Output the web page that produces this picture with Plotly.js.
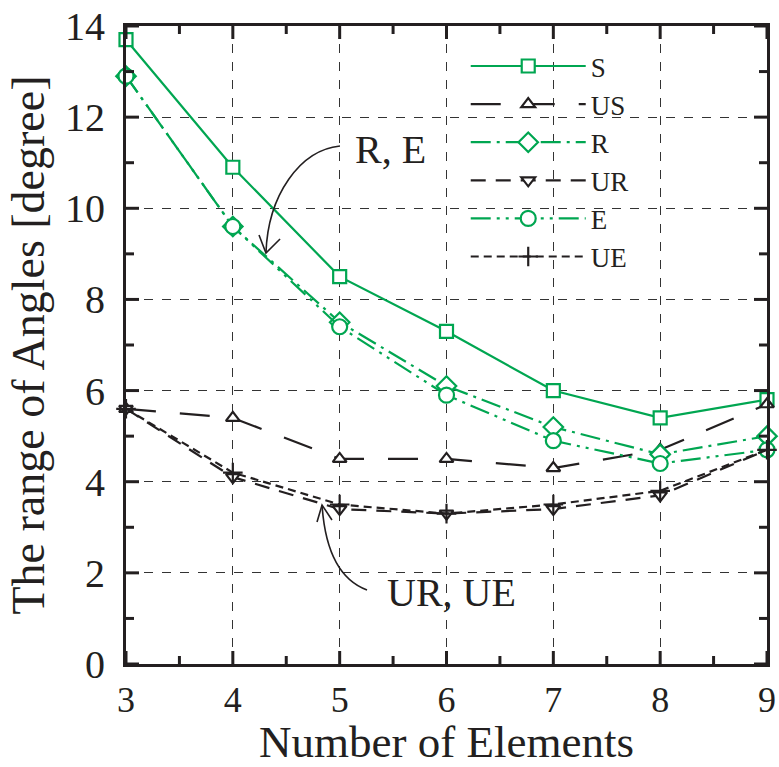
<!DOCTYPE html>
<html>
<head>
<meta charset="utf-8">
<script src="https://cdn.plot.ly/plotly-3.0.1.min.js"></script>
<style>
  html, body { margin: 0; padding: 0; background: #fff; }
  #chart { width: 779px; height: 767px; }
</style>
</head>
<body>
<div id="chart"></div>
<script>
// Number of array elements vs. range of angles
const elements = [3, 4, 5, 6, 7, 8, 9];
const S  = [13.7, 10.9, 8.5, 7.3, 6.0, 5.4, 5.8];
const US = [5.6, 5.4, 4.5, 4.5, 4.3, 4.7, 5.7];
const R  = [12.9, 9.6, 7.5, 6.1, 5.2, 4.6, 5.0];
const UR = [5.6, 4.1, 3.4, 3.3, 3.4, 3.7, 4.7];
const E  = [12.9, 9.6, 7.4, 5.9, 4.9, 4.4, 4.7];
const UE = [5.6, 4.2, 3.5, 3.3, 3.5, 3.8, 4.7];
const xTicks = [3, 4, 5, 6, 7, 8, 9];
const yTicks = [0, 2, 4, 6, 8, 10, 12, 14];

const GREEN = '#00a651';
const BLACK = '#231f20';
const FONT = 'Liberation Serif, Times New Roman, serif';

const W = 779, H = 767;
const M = { l: 126, r: 12, t: 26, b: 103 };

function series(name, y, color, dash, symbol, size) {
  return {
    type: 'scatter', mode: 'lines+markers', name: name,
    x: elements, y: y, cliponaxis: false,
    line: { color: color, width: 2.2, dash: dash },
    marker: { symbol: symbol, size: size, color: 'white',
              line: { color: color, width: 2.2 } }
  };
}

const traces = [
  series('S',  S,  GREEN, 'solid', 'square', 13),
  series('US', US, BLACK, '30px,24px', 'triangle-up', 12),
  series('R',  R,  GREEN, '20px,6px,3px,6px', 'diamond', 15),
  series('UR', UR, BLACK, '15px,10px', 'triangle-down', 12),
  series('E',  E,  GREEN, '20px,6px,3px,6px,3px,6px', 'circle', 15),
  series('UE', UE, BLACK, '8px,5px', 'cross-thin', 14)
];

// Curved callout arrows
const arrowLine = { color: BLACK, width: 1.6 };
const shapes = [
  { type: 'path', xref: 'x', yref: 'y', line: arrowLine,
    path: 'M5.003,11.367 C4.629,11.279 4.329,10.292 4.310,9.019' },
  { type: 'path', xref: 'x', yref: 'y', line: arrowLine,
    path: 'M4.245,9.414 L4.310,9.019 L4.442,9.326' },
  { type: 'path', xref: 'x', yref: 'y', line: arrowLine,
    path: 'M5.256,1.624 C5.003,1.843 4.863,2.502 4.835,3.489' },
  { type: 'path', xref: 'x', yref: 'y', line: arrowLine,
    path: 'M4.788,3.116 L4.835,3.489 L4.928,3.160' }
];

// Inward tick marks on all four sides of the frame (long at labelled values, short halfway)
const xMin = xTicks[0], xMax = xTicks[xTicks.length - 1];
const yMin = yTicks[0], yMax = yTicks[yTicks.length - 1];
const pxX = (xMax - xMin) / (W - M.l - M.r);   // data units per pixel
const pxY = (yMax - yMin) / (H - M.t - M.b);
const tickLine = { color: BLACK, width: 3 };
function xTick(v, len) {
  const d = len * pxY;
  shapes.push({ type: 'line', xref: 'x', yref: 'y', x0: v, x1: v, y0: yMin, y1: yMin + d, line: tickLine });
  shapes.push({ type: 'line', xref: 'x', yref: 'y', x0: v, x1: v, y0: yMax, y1: yMax - d, line: tickLine });
}
function yTick(v, len) {
  const d = len * pxX;
  shapes.push({ type: 'line', xref: 'x', yref: 'y', y0: v, y1: v, x0: xMin, x1: xMin + d, line: tickLine });
  shapes.push({ type: 'line', xref: 'x', yref: 'y', y0: v, y1: v, x0: xMax, x1: xMax - d, line: tickLine });
}
for (let i = 0; i < xTicks.length; i++) {
  xTick(xTicks[i], 13);
  if (i < xTicks.length - 1) xTick((xTicks[i] + xTicks[i + 1]) / 2, 8);
}
for (let i = 0; i < yTicks.length; i++) {
  yTick(yTicks[i], 13);
  if (i < yTicks.length - 1) yTick((yTicks[i] + yTicks[i + 1]) / 2, 8);
}

const annotations = [
  { x: 5.125, y: 11.28, xref: 'x', yref: 'y', text: 'R, E', showarrow: false,
    xanchor: 'left', yanchor: 'middle', font: { family: FONT, size: 40, color: BLACK } },
  { x: 5.424, y: 1.58, xref: 'x', yref: 'y', text: 'UR, UE', showarrow: false,
    xanchor: 'left', yanchor: 'middle', font: { family: FONT, size: 40, color: BLACK } },
  // x-axis title
  { x: 0.5, y: -0.122, xref: 'paper', yref: 'paper', text: 'Number of Elements', showarrow: false,
    xanchor: 'center', yanchor: 'middle', font: { family: FONT, size: 45, color: BLACK } }
];

const axisCommon = {
  showline: true, linecolor: BLACK, linewidth: 3, mirror: true,
  ticks: '', showgrid: true, gridcolor: '#333', gridwidth: 1, griddash: 'dash',
  zeroline: false
};

const layout = {
  width: W, height: H,
  margin: M,
  paper_bgcolor: 'white', plot_bgcolor: 'white',
  xaxis: Object.assign({}, axisCommon, {
    range: [xMin, xMax], tickmode: 'array', tickvals: xTicks,
    ticklabelstandoff: 2,
    tickfont: { family: FONT, size: 36, color: BLACK }
  }),
  yaxis: Object.assign({}, axisCommon, {
    range: [yMin, yMax], tickmode: 'array', tickvals: yTicks,
    ticklabelstandoff: 10,
    tickfont: { family: FONT, size: 40, color: BLACK },
    title: { text: 'The range of Angles [degree]', font: { family: FONT, size: 46, color: BLACK }, standoff: 6 }
  }),
  legend: {
    x: 0.53, y: 0.975, xanchor: 'left', yanchor: 'top',
    bgcolor: 'rgba(0,0,0,0)', borderwidth: 0,
    itemwidth: 115, tracegroupgap: 0,
    font: { family: FONT, size: 27, color: BLACK }
  },
  shapes: shapes,
  annotations: annotations
};

Plotly.newPlot('chart', traces, layout, { displayModeBar: false, staticPlot: true });
</script>
</body>
</html>
